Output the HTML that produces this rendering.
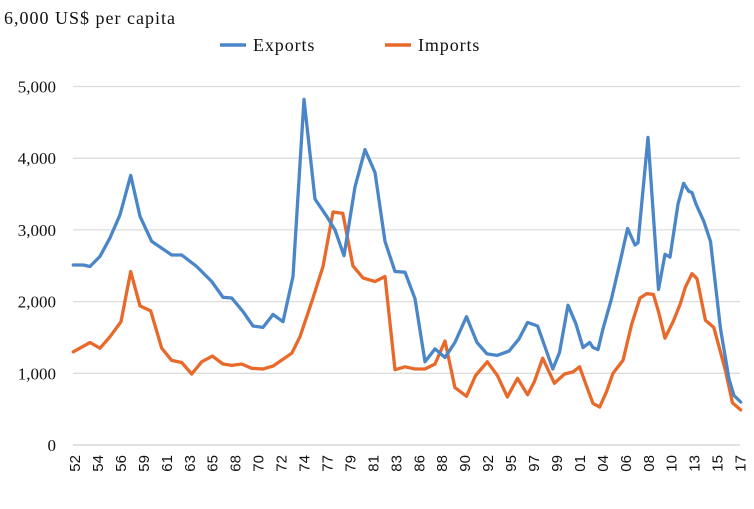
<!DOCTYPE html>
<html><head><meta charset="utf-8"><style>
html,body{margin:0;padding:0;background:#fff;}
svg{display:block;font-family:"Liberation Serif",serif;}
</style></head><body>
<svg id="chart" width="754" height="509" viewBox="0 0 754 509" xmlns="http://www.w3.org/2000/svg">
<g id="grid"></g>
<g id="yaxis"></g>
<g id="xaxis"></g>
<g id="series"></g>
<text x="4" y="24" font-size="18" letter-spacing="1" fill="#111">6,000 US$ per capita</text>
<g>
<g>
<line x1="220" y1="45" x2="246" y2="45" stroke="#4a86c8" stroke-width="3.5"/>
<text x="253" y="51" font-size="18" letter-spacing="0.9" fill="#111">Exports</text></g>
<g>
<line x1="385" y1="45" x2="411" y2="45" stroke="#e8692a" stroke-width="3.5"/>
<text x="418" y="51" font-size="18" letter-spacing="0.9" fill="#111">Imports</text></g>
</g>
</svg>
<script>
const yTicks=[0,1000,2000,3000,4000,5000];
const yTickLabels=["0","1,000","2,000","3,000","4,000","5,000"];
const xTickLabels=["52","54","56","59","61","63","65","68","70","72","74","77","79","81","83","86","88","90","92","95","97","99","01","04","06","08","10","13","15","17"];
const exportYears=[1951.83,1952.81,1953.47,1954.45,1955.43,1956.41,1957.46,1958.37,1959.52,1961.48,1962.46,1963.93,1965.40,1966.51,1967.36,1968.47,1969.45,1970.43,1971.41,1972.39,1973.37,1974.45,1975.53,1976.68,1977.49,1978.37,1979.45,1980.43,1981.41,1982.39,1983.37,1984.35,1985.33,1986.31,1987.29,1988.27,1989.25,1990.38,1991.41,1992.39,1993.37,1994.55,1995.53,1996.37,1997.35,1998.84,1999.50,2000.33,2001.11,2001.80,2002.46,2002.78,2003.27,2003.76,2004.60,2005.43,2006.18,2006.90,2007.20,2008.18,2009.21,2009.84,2010.33,2011.12,2011.67,2012.17,2012.49,2012.88,2013.65,2014.30,2015.28,2016.12,2016.61,2017.26];
const exportValues=[2510,2510,2490,2630,2890,3210,3760,3190,2840,2650,2650,2490,2280,2060,2050,1860,1660,1640,1820,1720,2350,4820,3430,3190,3000,2640,3600,4120,3800,2840,2420,2410,2040,1160,1340,1220,1430,1790,1430,1270,1250,1310,1480,1710,1660,1060,1290,1950,1690,1360,1430,1360,1330,1620,2040,2550,3020,2790,2820,4290,2170,2660,2620,3360,3650,3540,3520,3360,3120,2840,1620,920,690,600];
const importYears=[1951.83,1953.47,1954.45,1955.43,1956.51,1957.46,1958.37,1959.42,1960.50,1961.48,1962.46,1963.44,1964.42,1965.46,1966.51,1967.36,1968.34,1969.32,1970.43,1971.41,1973.25,1974.06,1975.33,1976.31,1977.29,1978.25,1979.25,1980.24,1981.41,1982.39,1983.37,1984.35,1985.33,1986.31,1987.29,1988.27,1989.25,1990.38,1991.27,1992.42,1993.41,1994.39,1995.38,1996.37,1997.03,1997.85,1999.00,1999.99,2000.82,2001.47,2002.13,2002.78,2003.44,2004.10,2004.75,2005.73,2006.57,2007.39,2008.05,2008.71,2009.21,2009.84,2010.67,2011.34,2011.83,2012.49,2012.98,2013.80,2014.63,2015.78,2016.45,2017.26];
const importValues=[1300,1430,1350,1510,1720,2420,1940,1870,1350,1180,1150,990,1160,1240,1130,1110,1130,1070,1060,1100,1280,1510,2050,2490,3250,3230,2500,2330,2280,2350,1050,1090,1060,1060,1130,1450,800,680,970,1160,970,670,930,700,880,1210,860,990,1020,1090,830,580,530,740,1000,1180,1680,2050,2110,2100,1860,1490,1730,1970,2200,2390,2320,1740,1640,1030,590,490];

const NS="http://www.w3.org/2000/svg";
const X0=75,PXY=10.2,Y0=445,PXV=0.0717;
function xs(yr){return X0+(yr-1952)*PXY;}
function ys(v){return Y0-v*PXV;}
function mk(tag,attrs,parent){const e=document.createElementNS(NS,tag);for(const k in attrs)e.setAttribute(k,attrs[k]);parent.appendChild(e);return e;}
const grid=document.getElementById('grid'),yax=document.getElementById('yaxis'),xax=document.getElementById('xaxis'),ser=document.getElementById('series');
yTicks.forEach((t,i)=>{
  const l=mk('line',{x1:73,x2:740,y1:ys(t),y2:ys(t),stroke:t===0?'#d0d0d0':'#dcdcdc','stroke-width':1.3},grid);
  
  
  const tx=mk('text',{x:56,y:ys(t)+6,'text-anchor':'end','font-size':17,fill:'#111'},yax);
  
  
  tx.textContent=yTickLabels[i];
});
xTickLabels.forEach((s,i)=>{
  const x=xs(1952+i*2.25)+5;
  const tx=mk('text',{x:0,y:0,transform:`translate(${x},455) rotate(-90)`,'text-anchor':'end','font-size':15,fill:'#111','font-family':'Liberation Sans, sans-serif'},xax);
  
  
  tx.textContent=s;
});
function line(yrs,vals,color,name){
  const d=yrs.map((y,i)=>(i?'L':'M')+xs(y).toFixed(1)+' '+ys(vals[i]).toFixed(1)).join(' ');
  const p=mk('path',{d:d,fill:'none',stroke:color,'stroke-width':3.3,'stroke-linejoin':'round','stroke-linecap':'round'},ser);
  
  
}
line(importYears,importValues,'#e8692a','imports-line');
line(exportYears,exportValues,'#4a86c8','exports-line');
</script>
</body></html>
